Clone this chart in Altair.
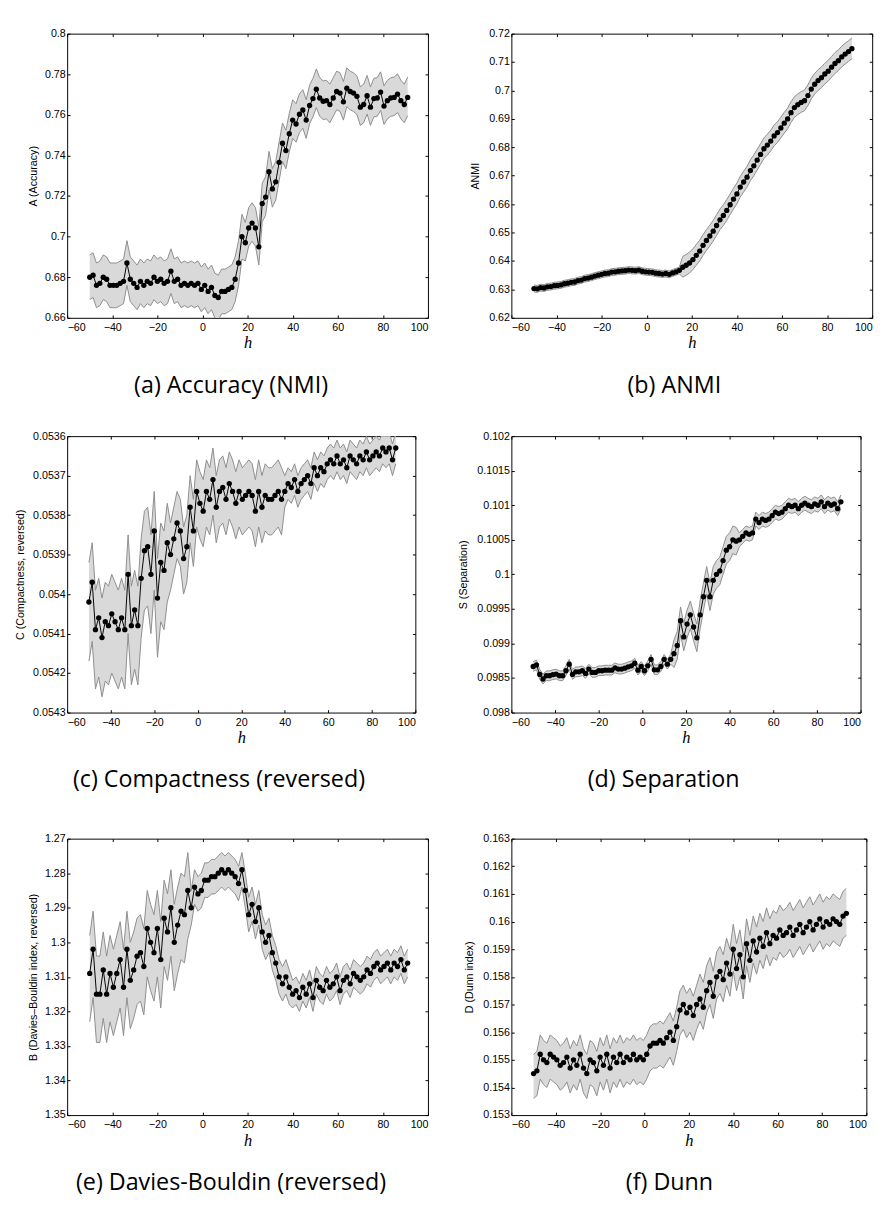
import altair as alt
import pandas as pd

H = [round(-50 + 1.5 * i, 1) for i in range(95)]
X_TICKS = [-60, -40, -20, 0, 20, 40, 60, 80, 100]

A_MEAN = [0.680, 0.681, 0.676, 0.677, 0.680, 0.679, 0.676, 0.676, 0.676, 0.677,
          0.678, 0.687, 0.679, 0.677, 0.675, 0.678, 0.676, 0.678, 0.677, 0.680,
          0.678, 0.679, 0.677, 0.678, 0.683, 0.678, 0.679, 0.676, 0.677, 0.676,
          0.677, 0.676, 0.677, 0.674, 0.676, 0.673, 0.675, 0.671, 0.670, 0.673,
          0.673, 0.674, 0.675, 0.679, 0.687, 0.700, 0.697,
          0.7043, 0.7067, 0.7043, 0.695, 0.7163, 0.7195, 0.732, 0.7235, 0.727, 0.7366,
          0.746, 0.7424, 0.7507, 0.7574, 0.7555, 0.7603, 0.7624, 0.7574, 0.7646, 0.768,
          0.7726, 0.7683, 0.7667, 0.767, 0.7651, 0.7683, 0.7715, 0.7707, 0.7664, 0.7731,
          0.7715, 0.7707, 0.7691, 0.7638, 0.7651, 0.7694, 0.7638, 0.768, 0.7683, 0.7712,
          0.7643, 0.767, 0.7683, 0.7686, 0.7702, 0.767, 0.7651, 0.7686]
A_LO_W = [0.011] * 46 + [0.009] * 49
A_HI_W = [0.011] * 46 + [0.010] * 49

B_MEAN = [0.6303, 0.6302, 0.6306, 0.6305, 0.6309, 0.6310, 0.6313, 0.6314, 0.6316, 0.6320,
          0.6322, 0.6325, 0.6326, 0.6331, 0.6333, 0.6338, 0.6340, 0.6343, 0.6347, 0.6350,
          0.6353, 0.6356, 0.6357, 0.6361, 0.6362, 0.6364, 0.6365, 0.6366, 0.6368, 0.6367,
          0.6366, 0.6368, 0.6364, 0.6362, 0.6361, 0.6360, 0.6357, 0.6356, 0.6354, 0.6356,
          0.6353, 0.6358, 0.6362, 0.6367,
          0.6378, 0.6385, 0.6393, 0.6405, 0.6420, 0.6435, 0.6455, 0.6472, 0.6488, 0.6505,
          0.6525, 0.6545, 0.6560, 0.6578, 0.6598, 0.6618, 0.6636, 0.6660, 0.6678, 0.6695,
          0.6718, 0.6735, 0.6755, 0.6775, 0.6795, 0.6808, 0.6822, 0.6840, 0.6852, 0.6868,
          0.6885, 0.6900, 0.6922, 0.6940, 0.6950, 0.6958, 0.6964, 0.6982, 0.7005, 0.7022,
          0.7035, 0.7045, 0.7058, 0.7068, 0.7082, 0.7095, 0.7105, 0.7118, 0.7128, 0.7137,
          0.7147]
B_LO_W = [0.0012] * 44 + [0.0035] * 51
B_HI_W = [0.0012] * 44 + [0.0038] * 51

C_MEAN = [0.05402, 0.05397, 0.05409, 0.05406, 0.05411, 0.05407, 0.05408, 0.05405, 0.05407, 0.05409,
          0.05406, 0.05409, 0.05395, 0.05408, 0.05404, 0.05408, 0.05396, 0.05389, 0.05388, 0.05395,
          0.05384, 0.05401, 0.05392, 0.05394, 0.05387, 0.05390, 0.05386, 0.05382, 0.05384, 0.05391,
          0.05388, 0.05378, 0.05384, 0.05374, 0.05377, 0.05379, 0.05374, 0.05376, 0.05371, 0.05378,
          0.05374, 0.05373, 0.05376, 0.05372, 0.05374, 0.05377, 0.05374, 0.05376, 0.05375, 0.05374,
          0.05375, 0.05379, 0.05374, 0.05378, 0.05375, 0.05376, 0.05376, 0.05375, 0.05374, 0.05376,
          0.05374, 0.05372, 0.05373, 0.05371, 0.05374, 0.05372, 0.05371, 0.05370, 0.05372, 0.05368,
          0.05370, 0.05368, 0.05369, 0.05367, 0.05366, 0.05367, 0.05365, 0.05367, 0.05366, 0.05368,
          0.05365, 0.05366, 0.05367, 0.05365, 0.05366, 0.05364, 0.05366, 0.05365, 0.05364, 0.05365,
          0.05363, 0.05364, 0.05363, 0.05366, 0.05363]
# C axis is reversed: "LO" is the numerically smaller (upper on screen) edge
C_LO_W = [0.00010] * 25 + [0.00008] * 35 + [0.00004] * 35
C_HI_W = [0.00015] * 25 + [0.00009] * 35 + [0.00004] * 35

D_MEAN = [0.098667, 0.098690, 0.098552, 0.098486, 0.098533, 0.098533, 0.098548, 0.098557, 0.098533, 0.098533,
          0.098605, 0.098700, 0.098552, 0.098590, 0.098590, 0.098605, 0.098567, 0.098629, 0.098581, 0.098581,
          0.098605, 0.098605, 0.098614, 0.098614, 0.098614, 0.098648, 0.098629, 0.098629, 0.098643, 0.098662,
          0.098676, 0.098714, 0.098614, 0.098667, 0.098605, 0.098676, 0.098771, 0.098619, 0.098619, 0.098667,
          0.098771, 0.098700, 0.098771,
          0.098852, 0.098971, 0.099329, 0.099095, 0.099281, 0.099414, 0.099238, 0.099081, 0.099414, 0.099676,
          0.099914, 0.099676, 0.099914,
          0.1000, 0.10005, 0.1002, 0.10035, 0.1004, 0.1005, 0.10048, 0.1005, 0.10055, 0.1006,
          0.10058, 0.1006, 0.1008, 0.10075, 0.1008, 0.10078, 0.1008, 0.10085, 0.1009, 0.10088,
          0.1009, 0.10095, 0.1010, 0.10098, 0.1010, 0.10095, 0.1010, 0.10103, 0.1010, 0.10098,
          0.10102, 0.1010, 0.10105, 0.10098, 0.10103, 0.1010, 0.10102, 0.10095, 0.10105]
D_LO_W = [0.00007] * 43 + [0.0002] * 20 + [0.0001] * 32
D_HI_W = [0.00007] * 43 + [0.0002] * 20 + [0.0001] * 32

E_MEAN = [1.309, 1.302, 1.315, 1.315, 1.308, 1.315, 1.309, 1.313, 1.309, 1.305,
          1.313, 1.302, 1.311, 1.308, 1.304, 1.303, 1.307, 1.296, 1.300, 1.303, 1.296,
          1.305, 1.293, 1.297, 1.290, 1.300, 1.295, 1.291, 1.292, 1.285, 1.290, 1.284, 1.286, 1.285, 1.282, 1.282,
          1.281, 1.281, 1.280, 1.279, 1.280, 1.279, 1.280, 1.281, 1.283, 1.279, 1.285, 1.292,
          1.289, 1.294, 1.290, 1.297, 1.300, 1.298, 1.303, 1.306, 1.310, 1.312, 1.310, 1.313, 1.315,
          1.314, 1.316, 1.313, 1.315, 1.312, 1.316, 1.311, 1.313, 1.314, 1.311,
          1.313, 1.312, 1.310, 1.314, 1.311, 1.310, 1.312, 1.309, 1.310, 1.311,
          1.310, 1.308, 1.309, 1.307, 1.306, 1.308, 1.307, 1.306, 1.308, 1.306,
          1.307, 1.305, 1.308, 1.306]
E_LO_W = [0.011] * 30 + [0.005] * 30 + [0.004] * 35
E_HI_W = [0.014] * 30 + [0.005] * 30 + [0.004] * 35

F_MEAN = [0.1545, 0.1546, 0.1552, 0.1550, 0.1549, 0.1552, 0.1551, 0.1550, 0.1548, 0.1549,
          0.1551, 0.1547, 0.1550, 0.1548, 0.1552, 0.1547, 0.1545, 0.1550, 0.1549, 0.1546,
          0.1551, 0.1548, 0.1552, 0.1547, 0.1551, 0.1549, 0.1552, 0.1549, 0.1551, 0.1550,
          0.1552, 0.1550, 0.1551, 0.1550,
          0.1552, 0.1555, 0.1556, 0.1556, 0.1557, 0.1556, 0.1558, 0.1560, 0.1557, 0.1562,
          0.1568, 0.1570, 0.1567, 0.1569, 0.1566, 0.1570, 0.1572,
          0.1569, 0.1575, 0.1578, 0.1573, 0.1580, 0.1582, 0.1579, 0.1585, 0.1581, 0.1590,
          0.1583, 0.1588, 0.1580, 0.1592, 0.1586, 0.1593, 0.1589, 0.1594, 0.1591, 0.1596,
          0.1592, 0.1595, 0.1594, 0.1597, 0.1595, 0.1596, 0.1598, 0.1595, 0.1597, 0.1599,
          0.1596, 0.1598, 0.1600, 0.1597, 0.1599, 0.1601, 0.1598, 0.1600, 0.1599, 0.1601,
          0.1600, 0.1599, 0.1602, 0.1603]
F_LO_W = [0.0009] * 50 + [0.0008] * 45
F_HI_W = [0.0007] * 50 + [0.0009] * 45

SANS = "Liberation Sans"


def panel(mean, lo_w, hi_w, ydom, yticks, ytitle, caption, w, hgt, cap_dx, title_x, reverse=False):
    rows = []
    for a, m, dl, du in zip(H, mean, lo_w, hi_w):
        rows.append({"h": a, "m": m, "lo": m - dl, "hi": m + du})
    df = pd.DataFrame(rows)
    xs = alt.Scale(domain=[-60, 100], nice=False, zero=False)
    ys = alt.Scale(domain=ydom, nice=False, zero=False, reverse=reverse)
    common = dict(grid=False, domain=False, tickSize=3, offset=-3, tickColor="black",
                  labelFont=SANS, labelFontSize=11, labelColor="black")
    x_bot = alt.Axis(values=X_TICKS, format="d", title="h", labelPadding=4,
                     titleFont="Liberation Serif", titleFontStyle="italic", titleFontSize=17,
                     titleFontWeight="normal", titlePadding=3, titleColor="black", **common)
    y_left = alt.Axis(values=yticks, format="~g", title=ytitle, labelPadding=2,
                      titleFont=SANS, titleFontSize=11, titleFontWeight="normal",
                      titleColor="black", titleX=title_x, titleY=hgt / 2, titleAngle=270,
                      titleAlign="center", titleBaseline="middle", **common)
    x_top = alt.Axis(values=X_TICKS, orient="top", labels=False, title="", **common)
    y_right = alt.Axis(values=yticks, orient="right", labels=False, title="", **common)

    base = alt.Chart(df)
    band = base.mark_area(color="#d9d9d9", opacity=1, clip=True).encode(
        x=alt.X("h:Q", scale=xs, axis=x_top),
        y=alt.Y("lo:Q", scale=ys, axis=y_right),
        y2="hi:Q")
    lo_line = base.mark_line(color="#8c8c8c", strokeWidth=1, clip=True).encode(
        x=alt.X("h:Q", scale=xs, axis=None), y=alt.Y("lo:Q", scale=ys, axis=None))
    hi_line = base.mark_line(color="#8c8c8c", strokeWidth=1, clip=True).encode(
        x=alt.X("h:Q", scale=xs, axis=None), y=alt.Y("hi:Q", scale=ys, axis=None))
    mline = base.mark_line(color="black", strokeWidth=1, clip=True).encode(
        x=alt.X("h:Q", scale=xs, axis=x_bot), y=alt.Y("m:Q", scale=ys, axis=y_left))
    pts = base.mark_circle(color="black", size=30, opacity=1, clip=True).encode(
        x=alt.X("h:Q", scale=xs, axis=None), y=alt.Y("m:Q", scale=ys, axis=None))
    return alt.layer(band, lo_line, hi_line, mline, pts).resolve_axis(
        x="independent", y="independent").properties(
        width=w, height=hgt,
        view=alt.ViewBackground(stroke="black", strokeWidth=1),
        title=alt.TitleParams(caption, orient="bottom", anchor="middle", dx=cap_dx, offset=24,
                              font="Open Sans", fontSize=24, fontWeight="normal", color="black"))


def spacer(w, hgt):
    return alt.Chart(pd.DataFrame({"z": [0]})).mark_point(opacity=0).encode(
        x=alt.X("z:Q", axis=None), y=alt.Y("z:Q", axis=None)).properties(
        width=w, height=hgt, view=alt.ViewBackground(stroke="transparent"))


pa = panel(A_MEAN, A_LO_W, A_HI_W, [0.66, 0.8], [0.66, 0.68, 0.7, 0.72, 0.74, 0.76, 0.78, 0.8],
           "A (Accuracy)", "(a) Accuracy (NMI)", 372, 293, -17, -38)
pb = panel(B_MEAN, B_LO_W, B_HI_W, [0.62, 0.72],
           [0.62, 0.63, 0.64, 0.65, 0.66, 0.67, 0.68, 0.69, 0.7, 0.71, 0.72],
           "ANMI", "(b) ANMI", 372, 293, -18, -40)
pc = panel(C_MEAN, C_LO_W, C_HI_W, [0.0536, 0.0543],
           [0.0536, 0.0537, 0.0538, 0.0539, 0.054, 0.0541, 0.0542, 0.0543],
           "C (Compactness, reversed)", "(c) Compactness (reversed)", 359, 285, -23, -51, reverse=True)
pd_ = panel(D_MEAN, D_LO_W, D_HI_W, [0.098, 0.102],
            [0.098, 0.0985, 0.099, 0.0995, 0.1, 0.1005, 0.101, 0.1015, 0.102],
            "S (Separation)", "(d) Separation", 360, 285, -23, -52)
pe = panel(E_MEAN, E_LO_W, E_HI_W, [1.27, 1.35], [1.27, 1.28, 1.29, 1.3, 1.31, 1.32, 1.33, 1.34, 1.35],
           "B (Davies\u2013Bouldin index, reversed)", "(e) Davies-Bouldin (reversed)", 372, 285, -17, -38,
           reverse=True)
pf = panel(F_MEAN, F_LO_W, F_HI_W, [0.153, 0.163],
           [0.153, 0.154, 0.155, 0.156, 0.157, 0.158, 0.159, 0.16, 0.161, 0.162, 0.163],
           "D (Dunn index)", "(f) Dunn", 366, 285, -20, -46)

cells = [spacer(1, 415), pa, spacer(74, 10), pb,
         spacer(14, 415), pc, spacer(86, 10), pd_,
         spacer(1, 415), pe, spacer(80, 10), pf]

chart = alt.concat(*cells, columns=4, spacing=0, bounds="flush",
                   align={"row": "each", "column": "none"}).properties(
    padding={"left": 6, "top": 0, "right": 5, "bottom": 0}).configure(background="white")

chart.save("out.html", embed_options={"renderer": "svg", "actions": False})
